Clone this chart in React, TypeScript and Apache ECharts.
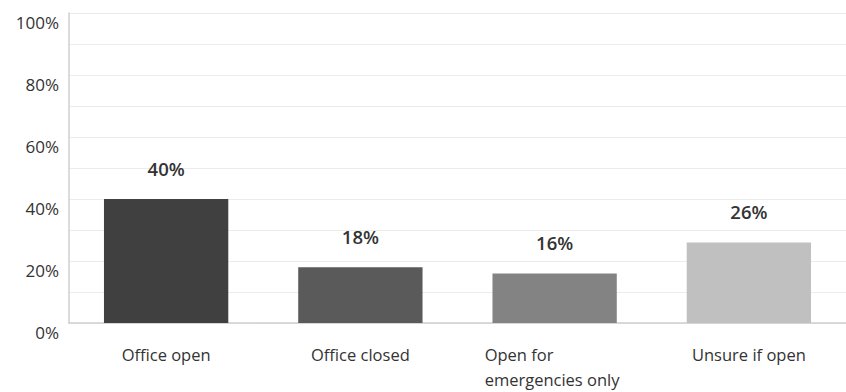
import React, { useEffect, useRef } from "react";
import * as echarts from "echarts";

const categories = ["Office open", "Office closed", "Open for\nemergencies only", "Unsure if open"];
const values = [40, 18, 16, 26];
const barColors = ["#404040", "#5a5a5a", "#838383", "#c0c0c0"];
const yTicks = [0, 20, 40, 60, 80, 100];

const FONT = "'Open Sans', sans-serif";

export default function App() {
  const ref = useRef<HTMLDivElement>(null);
  useEffect(() => {
    if (!ref.current) return;
    const chart = echarts.init(ref.current, null, { renderer: "svg" });
    chart.setOption({
      animation: false,
      grid: { left: 69, right: 0, top: 13, bottom: 69, containLabel: false },
      xAxis: {
        type: "category",
        data: categories,
        axisLine: { show: true, lineStyle: { color: "#cfcfcf", width: 1.5 } },
        axisTick: { show: false },
        axisLabel: {
          interval: 0,
          margin: 19,
          color: "#333",
          fontSize: 16.5,
          fontFamily: FONT,
          lineHeight: 25,
          formatter: (v: string) =>
            v.includes("\n") ? v.split("\n").map((s) => `{m|${s}}`).join("\n") : v,
          rich: {
            m: { fontSize: 16.5, fontFamily: FONT, color: "#333", lineHeight: 25, width: 140, align: "left" },
          },
        },
      },
      yAxis: {
        type: "value",
        min: 0,
        max: 100,
        interval: 10,
        axisLine: { show: true, lineStyle: { color: "#cfcfcf", width: 1.5 } },
        axisTick: { show: false },
        splitLine: { show: true, lineStyle: { color: "#ececec", width: 1 } },
        axisLabel: {
          margin: 10,
          color: "#333",
          fontSize: 17,
          fontFamily: FONT,
          verticalAlign: "top",
          padding: [1, 0, 0, 0],
          formatter: (v: number) => (yTicks.includes(v) ? `${v}%` : ""),
        },
      },
      series: [
        {
          type: "bar",
          barWidth: "64%",
          data: values.map((v, i) => ({ value: v, itemStyle: { color: barColors[i] } })),
          label: {
            show: true,
            position: "top",
            distance: 21,
            color: "#333",
            fontSize: 18.5,
            fontWeight: 600,
            fontFamily: FONT,
            formatter: (p: any) => `${p.value}%`,
          },
        },
      ],
    });
    return () => chart.dispose();
  }, []);
  return <div ref={ref} style={{ width: 846, height: 392, position: "absolute", left: 0, top: 0 }} />;
}
